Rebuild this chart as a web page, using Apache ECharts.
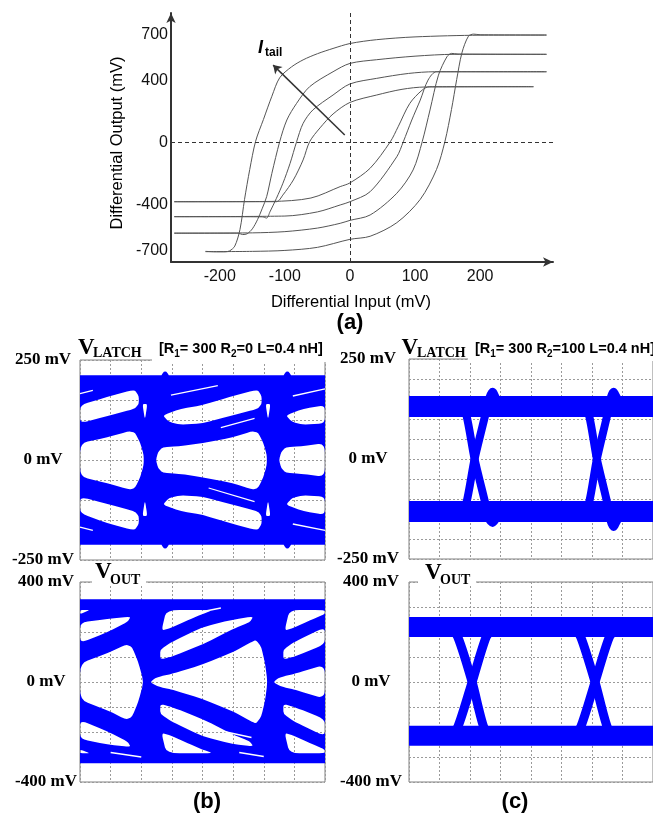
<!DOCTYPE html>
<html><head><meta charset="utf-8">
<script src="https://cdn.jsdelivr.net/npm/echarts@6/dist/echarts.min.js"></script>
<style>html,body{margin:0;padding:0;background:#fff}#c{width:653px;height:819px}</style>
</head><body><div id="c"></div>
<script>
// ===== (a) Hysteresis curves: [differential input mV, differential output mV]
const loopA_upper = [[-222,-706],[-205,-709],[-192,-709],[-185,-703],[-177,-672],[-169,-564],[-162,-369],[-154,-175],[-145,8],[-133,149],[-120,300],[-108,420],[-90,490],[-72,536],[-50,576],[-26,610],[0,642],[41,667],[100,685],[200,696],[302,697]];
const loopA_lower = [[-222,-708],[-150,-706],[-100,-700],[-50,-680],[0,-628],[31,-608],[72,-520],[108,-369],[133,-175],[146,8],[156,214],[164,408],[172,581],[182,689],[190,703],[200,699],[302,697]];
const loopB_upper = [[-270,-588],[-172,-588],[-165,-597],[-158,-592],[-150,-560],[-142,-500],[-135,-430],[-128,-351],[-120,-200],[-108,5],[-97,146],[-82,254],[-62,362],[-26,459],[0,513],[41,537],[100,560],[160,572],[302,572]];
const loopB_lower = [[-270,-588],[-150,-586],[-100,-578],[-50,-555],[-15,-524],[0,-505],[31,-470],[72,-329],[97,-178],[111,5],[123,211],[136,437],[149,556],[156,578],[166,574],[302,572]];
const loopC_upper = [[-270,-481],[-135,-482],[-128,-490],[-123,-450],[-113,-362],[-103,-264],[-92,-135],[-82,5],[-72,124],[-57,211],[-26,308],[0,380],[41,416],[90,448],[130,459],[302,459]];
const loopC_lower = [[-270,-481],[-100,-477],[-50,-450],[-15,-405],[0,-384],[31,-319],[72,-92],[82,5],[95,146],[108,275],[120,405],[133,459],[302,459]];
const loopD_upper = [[-270,-384],[-113,-384],[-103,-340],[-87,-243],[-72,-113],[-62,5],[-46,95],[-26,185],[0,260],[41,308],[80,345],[115,360],[282,362]];
const loopD_lower = [[-270,-384],[-120,-382],[-60,-360],[-15,-286],[0,-262],[31,-167],[62,5],[74,102],[92,254],[111,340],[122,362],[282,362]];
const hystXTicks = [-200,-100,0,100,200];
const hystYTicks = [-700,-400,0,400,700];
const tailArrow = [[-8,49],[-118,502]];

// ===== Eye diagrams: x in grid divisions (0..8), y in mV
// (b) V_LATCH : trace envelope and the open regions inside it
const bLatchEnvTop = [[0,212],[2.66,212],[2.7,217],[2.74,220.5],[2.78,221.5],[2.82,220.5],[2.86,217],[2.9,212],[6.65,212],[6.69,217],[6.73,220.5],[6.77,221.5],[6.81,220.5],[6.85,217],[6.89,212],[8,212]];
const bLatchEnvBottom = [[0,-212],[2.66,-212],[2.7,-217],[2.74,-220.5],[2.78,-221.5],[2.82,-220.5],[2.86,-217],[2.9,-212],[6.65,-212],[6.69,-217],[6.73,-220.5],[6.77,-221.5],[6.81,-220.5],[6.85,-217],[6.89,-212],[8,-212]];
const bLatchOpen = [
  [[0,137],[0.9,158],[1.78,176],[1.92,160],[1.92,140],[1.78,128],[0.9,110],[0,92]],
  [[0,42],[0.9,57],[1.6,72],[1.8,68],[1.97,42],[2.08,12],[2.08,-12],[1.97,-42],[1.8,-70],[1.6,-74],[0.9,-58],[0,-42]],
  [[0,-92],[0.9,-110],[1.78,-128],[1.92,-140],[1.92,-160],[1.78,-176],[0.9,-158],[0,-133]],
  [[2.7,112],[3.3,128],[4,137],[4.9,158],[5.8,176],[5.93,160],[5.93,140],[5.8,128],[4.9,110],[4,92],[3.3,88],[2.9,95]],
  [[2.48,0],[2.55,20],[2.7,32],[3.2,34],[4,42],[5,57],[5.62,72],[5.82,68],[5.99,42],[6.1,12],[6.1,-12],[5.99,-42],[5.82,-70],[5.62,-74],[5,-58],[4,-43],[3.2,-34],[2.7,-32],[2.55,-20]],
  [[2.7,-112],[3.3,-128],[4,-137],[4.9,-158],[5.8,-176],[5.93,-160],[5.93,-140],[5.8,-128],[4.9,-110],[4,-92],[3.3,-88],[2.9,-95]],
  [[6.72,112],[7.3,128],[7.999,137],[7.999,92],[7.3,88],[6.92,95]],
  [[6.5,0],[6.57,20],[6.72,32],[7.2,34],[7.999,42],[7.999,-42],[7.2,-34],[6.72,-32],[6.57,-20]],
  [[6.72,-112],[7.3,-128],[7.999,-137],[7.999,-92],[7.3,-88],[6.92,-95]],
  [[2.04,140],[2.2,140],[2.12,100]], [[2.04,-140],[2.2,-140],[2.12,-100]],
  [[6.06,140],[6.22,140],[6.14,100]], [[6.06,-140],[6.22,-140],[6.14,-100]]
];
const bLatchSlits = [[[0,166],[0.42,174]], [[0,-168],[0.42,-176]], [[2.97,162],[4.5,186]], [[4.6,81],[5.7,104]], [[4.2,-70],[5.7,-104]], [[6.95,160],[8,178]], [[6.95,-160],[8,-176]]];

// (b) V_OUT
const bOutEnvTop = [[0,331],[8,331]];
const bOutEnvBottom = [[0,-325],[8,-325]];
const bOutOpen = [
  [[0,238],[0.9,252],[1.66,262],[1.55,240],[0.9,200],[0,155]],
  [[0,272],[0.33,288],[0,288]],
  [[0,75],[0.9,115],[1.5,150],[1.7,140],[1.9,80],[2.08,0],[1.9,-80],[1.7,-140],[1.5,-150],[0.9,-113],[0,-72]],
  [[0,-152],[0.9,-198],[1.55,-238],[1.66,-260],[0.9,-250],[0,-228]],
  [[0,-270],[0.33,-285],[0,-285]],
  [[2.66,205],[3,218],[3.5,246],[4,272],[4.35,288],[2.82,288]],
  [[2.62,90],[2.62,130],[3,160],[4,220],[5,250],[5.66,262],[5.55,240],[5,212],[4,150],[3,102]],
  [[2.3,0],[2.45,15],[2.7,25],[3,32],[4,70],[5,120],[5.6,160],[5.75,168],[5.92,140],[6.05,70],[6.12,0],[6.05,-70],[5.92,-138],[5.75,-166],[5.6,-158],[5,-118],[4,-68],[3,-30],[2.7,-23],[2.45,-13]],
  [[2.62,-88],[2.62,-128],[3,-158],[4,-218],[5,-248],[5.66,-258],[5.55,-238],[5,-210],[4,-148],[3,-100]],
  [[2.66,-203],[3,-216],[3.5,-244],[4,-270],[4.35,-285],[2.82,-285]],
  [[6.68,205],[7,218],[7.5,246],[7.999,272],[7.999,288],[6.84,288]],
  [[6.64,90],[6.64,130],[7,160],[7.999,220],[7.999,150],[7,102]],
  [[6.32,0],[6.47,15],[6.72,25],[7,32],[7.999,70],[7.999,-68],[7,-30],[6.72,-23],[6.47,-13]],
  [[6.64,-88],[6.64,-128],[7,-158],[7.999,-218],[7.999,-148],[7,-100]],
  [[6.68,-203],[7,-216],[7.5,-244],[7.999,-270],[7.999,-285],[6.84,-285]]
];
const bOutSlits = [[[3.2,262],[4.6,296]], [[4.4,-190],[5.6,-222]], [[1.0,-282],[2.0,-300]], [[5.2,-282],[6.0,-298]]];

// (c) V_LATCH
const cLatchRails = [[[0,131],[8,131]], [[0,-131],[8,-131]]];
const cLatchLegs = [
  [[1.7,131],[1.88,110],[2.15,0],[2.5,-110],[2.62,-150],[2.74,-160],[2.9,-145],[3.1,-131]],
  [[1.7,-131],[1.88,-110],[2.15,0],[2.5,110],[2.62,150],[2.74,168],[2.9,145],[3.1,131]],
  [[5.72,131],[5.9,110],[6.16,0],[6.5,-110],[6.6,-152],[6.7,-170],[6.88,-147],[7.1,-131]],
  [[5.72,-131],[5.9,-110],[6.16,0],[6.5,110],[6.6,150],[6.7,168],[6.88,145],[7.1,131]]
];
// (c) V_OUT
const cOutRails = [[[0,220],[8,220]], [[0,-215],[8,-215]]];
const cOutLegs = [
  [[1.35,220],[1.6,180],[2.07,0],[2.45,-180],[2.7,-215]],
  [[1.35,-215],[1.6,-180],[2.07,0],[2.53,180],[2.8,220]],
  [[5.38,220],[5.63,180],[6.1,0],[6.5,-180],[6.75,-215]],
  [[5.38,-215],[5.63,-180],[6.1,0],[6.57,180],[6.85,220]]
];
const latchTicks = [-250,0,250];
const outTicks = [-400,0,400];

// ===== build
const BLUE = '#0000ff';
const SANS = "'Liberation Sans', Arial, sans-serif";
const SERIF = "'Liberation Serif', 'Times New Roman', serif";
const chart = echarts.init(document.getElementById('c'), null, {renderer:'canvas'});

const grids = [
  {left:171, top:13, width:382, height:249},
  {left:80, top:360, width:245, height:200, show:true, borderColor:'#808080', borderWidth:1},
  {left:80, top:582, width:245, height:200, show:true, borderColor:'#808080', borderWidth:1},
  {left:409, top:359, width:244, height:200, show:true, borderColor:'#808080', borderWidth:1},
  {left:409, top:582, width:244, height:200, show:true, borderColor:'#808080', borderWidth:1}
];
const xAxes = [{
  gridIndex:0, type:'value', min:-275, max:312, interval:25,
  axisLine:{show:true, onZero:false, symbol:['none','arrow'], symbolSize:[7,10], lineStyle:{color:'#333', width:2}},
  axisTick:{show:false}, splitLine:{show:false},
  axisLabel:{margin:7, color:'#111', fontSize:16, fontFamily:SANS, formatter:v => hystXTicks.includes(v) ? String(v) : ''}
}];
const yAxes = [{
  gridIndex:0, type:'value', min:-775, max:840, interval:25,
  axisLine:{show:true, onZero:false, symbol:['none','arrow'], symbolSize:[7,10], lineStyle:{color:'#333', width:2}},
  axisTick:{show:false}, splitLine:{show:false},
  axisLabel:{margin:3, color:'#111', fontSize:16, fontFamily:SANS, formatter:v => hystYTicks.includes(v) ? String(v) : ''}
}];
const eyeY = [
  {gi:1, min:-250, max:250, step:50, ticks:latchTicks, margin:37, pad:[0,0,5,0]},
  {gi:2, min:-400, max:400, step:100, ticks:outTicks, margin:34, pad:0},
  {gi:3, min:-250, max:250, step:50, ticks:latchTicks, margin:41, pad:[0,0,5,0]},
  {gi:4, min:-400, max:400, step:100, ticks:outTicks, margin:38, pad:0}
];
eyeY.forEach(e => {
  xAxes.push({gridIndex:e.gi, type:'value', min:0, max:8, interval:1,
    axisLine:{show:false}, axisTick:{show:false}, axisLabel:{show:false},
    splitLine:{show:true, lineStyle:{color:'#9a9a9a', type:[2,2], width:1}}});
  yAxes.push({gridIndex:e.gi, type:'value', min:e.min, max:e.max, interval:e.step,
    axisLine:{show:false}, axisTick:{show:false},
    splitLine:{show:true, lineStyle:{color:'#9a9a9a', type:[2,2], width:1}},
    axisLabel:{margin:e.margin, align:'center', padding:e.pad, color:'#000', fontSize:17, fontWeight:'bold', fontFamily:SERIF,
      formatter:v => e.ticks.includes(v) ? v + ' mV' : ''}});
});

const series = [];
const loops = [loopA_upper, loopA_lower, loopB_upper, loopB_lower, loopC_upper, loopC_lower, loopD_upper, loopD_lower];
loops.forEach((d, i) => {
  const s = {type:'line', xAxisIndex:0, yAxisIndex:0, data:d, showSymbol:false, smooth:0.3,
    lineStyle:{color:'#555', width:1}, z:3};
  if (i === 0) {
    s.markLine = {silent:true, symbol:'none', label:{show:false},
      lineStyle:{color:'#333', type:[4,3], width:1}, data:[{xAxis:0},{yAxis:0}]};
  }
  if (i === 1) {
    s.markLine = {silent:true, symbol:['none','arrow'], symbolSize:8, label:{show:false},
      lineStyle:{color:'#333', type:'solid', width:1.5},
      data:[[{coord:tailArrow[0]},{coord:tailArrow[1]}]]};
  }
  series.push(s);
});

// Envelope with open regions as holes (opposite winding, nonzero fill)
const fmt = p => p[0].toFixed(2) + ' ' + p[1].toFixed(2);
const lerp = (p, q, s) => [p[0] + (q[0] - p[0]) * s, p[1] + (q[1] - p[1]) * s];
function ring(pts, positive, t) {
  let a = 0;
  for (let i = 0; i < pts.length; i++) { const p = pts[i], q = pts[(i + 1) % pts.length]; a += p[0] * q[1] - q[0] * p[1]; }
  if ((a > 0) !== positive) pts = pts.slice().reverse();
  const n = pts.length;
  if (!t) return 'M' + pts.map(fmt).join(' L') + ' Z ';
  let d = '';
  for (let i = 0; i < n; i++) {
    const p = pts[i], q = pts[(i + 1) % n];
    const ea = lerp(p, q, t), eb = lerp(p, q, 1 - t);
    d += (i === 0 ? 'M' + fmt(ea) : 'Q' + fmt(p) + ' ' + fmt(ea)) + ' L' + fmt(eb) + ' ';
  }
  d += 'Q' + fmt(pts[0]) + ' ' + fmt(lerp(pts[0], pts[1], t)) + ' Z ';
  return d;
}
function eyeArea(gi, envTop, envBottom, openList) {
  series.push({type:'custom', xAxisIndex:gi, yAxisIndex:gi, z:4, silent:true, clip:true,
    data:[[0, 0]],
    renderItem:(params, api) => {
      const env = envTop.concat(envBottom.slice().reverse()).map(p => api.coord(p));
      let d = ring(env, true, 0);
      openList.forEach(h => { d += ring(h.map(p => api.coord(p)), false, 0.28); });
      const xs = env.map(p => p[0]), ys = env.map(p => p[1]);
      const x0 = Math.min(...xs), y0 = Math.min(...ys);
      return {type:'path', shape:{pathData:d, x:x0, y:y0, width:Math.max(...xs) - x0, height:Math.max(...ys) - y0, layout:'cover'},
        style:{fill:BLUE}};
    }});
}
function slits(list, gi) {
  list.forEach(d => series.push({type:'line', xAxisIndex:gi, yAxisIndex:gi, data:d, showSymbol:false,
    z:6, silent:true, lineStyle:{color:'#fff', width:1.3, cap:'butt'}}));
}
function traces(list, gi, width, cap) {
  list.forEach(d => series.push({type:'line', xAxisIndex:gi, yAxisIndex:gi, data:d, showSymbol:false,
    smooth:0.25, clip:true, z:4, lineStyle:{color:BLUE, width:width, cap:cap, join:'round'}}));
}
eyeArea(1, bLatchEnvTop, bLatchEnvBottom, bLatchOpen);
slits(bLatchSlits, 1);
eyeArea(2, bOutEnvTop, bOutEnvBottom, bOutOpen);
slits(bOutSlits, 2);
traces(cLatchRails, 3, 21, 'butt'); traces(cLatchLegs, 3, 8, 'round');
traces(cOutRails, 4, 20, 'butt'); traces(cOutLegs, 4, 9, 'round');

function txt(x, y, text, font, align, extra) {
  return Object.assign({type:'text', x:x, y:y, z:20,
    style:{text:text, font:font, fill:'#000', align:align || 'left', verticalAlign:'middle'}}, extra || {});
}
function rect(x, y, w, h) {
  return {type:'rect', z:15, shape:{x:x, y:y, width:w, height:h}, style:{fill:'#fff'}};
}
const richBr = (t) => ({type:'text', x:t.x, y:t.y, z:20, style:{text:t.text, align:'left', verticalAlign:'middle', fill:'#000',
  rich:{n:{fontSize:14.5, fontWeight:'bold', fontFamily:SANS, lineHeight:20, verticalAlign:'middle', fill:'#000'},
        s:{fontSize:10, fontWeight:'bold', fontFamily:SANS, lineHeight:12, verticalAlign:'bottom', fill:'#000'}}}});

const graphic = [
  txt(350, 323, '(a)', 'bold 22px ' + SANS, 'center'),
  txt(207, 802, '(b)', 'bold 22px ' + SANS, 'center'),
  txt(515, 802, '(c)', 'bold 22px ' + SANS, 'center'),
  txt(117, 143, 'Differential Output (mV)', '16.5px ' + SANS, 'center', {rotation:Math.PI/2}),
  txt(351, 302, 'Differential Input (mV)', '16.5px ' + SANS, 'center'),
  txt(258, 48, 'I', 'italic bold 18px ' + SANS, 'left'),
  txt(265, 53, 'tail', 'bold 12px ' + SANS, 'left'),
  rect(152, 357, 174, 5), rect(468, 356, 186, 5),
  rect(92, 579, 54, 6), rect(418, 579, 58, 6),
  txt(78, 348, 'V', 'bold 23px ' + SERIF), txt(93, 353, 'LATCH', 'bold 14px ' + SERIF),
  txt(401.5, 348, 'V', 'bold 23px ' + SERIF), txt(417, 353, 'LATCH', 'bold 14px ' + SERIF),
  txt(95, 572, 'V', 'bold 23px ' + SERIF), txt(110, 580, 'OUT', 'bold 14px ' + SERIF),
  txt(425, 573, 'V', 'bold 23px ' + SERIF), txt(440, 580, 'OUT', 'bold 14px ' + SERIF),
  richBr({x:159, y:349, text:'{n|[R}{s|1}{n|= 300 R}{s|2}{n|=0 L=0.4 nH]}'}),
  richBr({x:475, y:349, text:'{n|[R}{s|1}{n|= 300 R}{s|2}{n|=100 L=0.4 nH]}'})
];

chart.setOption({animation:false, backgroundColor:'#fff', grid:grids, xAxis:xAxes, yAxis:yAxes, series:series, graphic:graphic});
</script></body></html>
